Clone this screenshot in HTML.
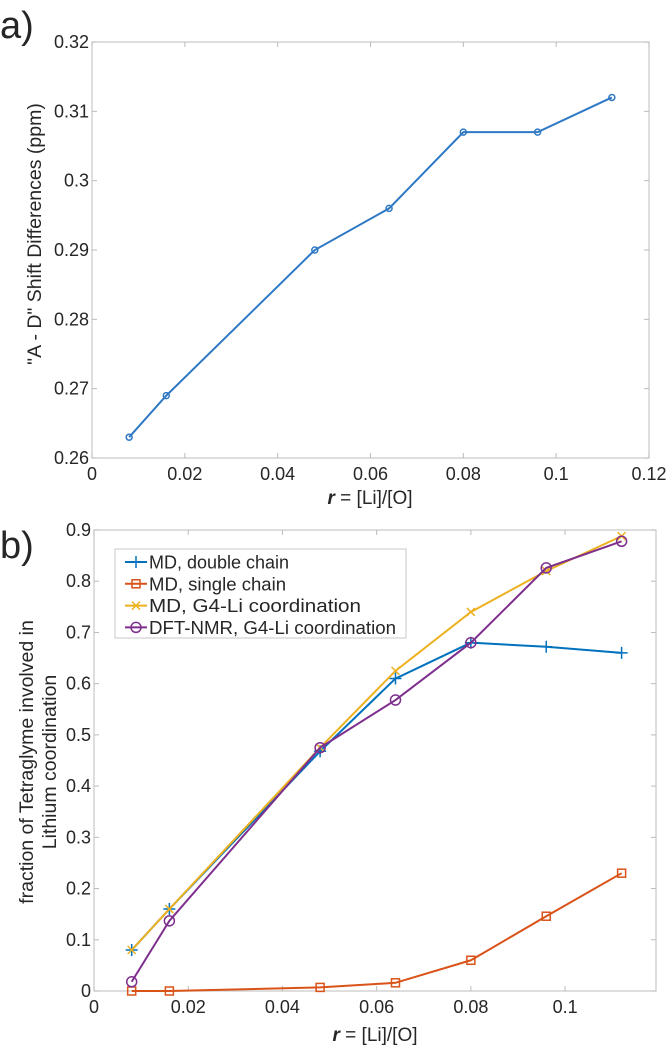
<!DOCTYPE html>
<html><head><meta charset="utf-8"><style>
body{margin:0;background:#fff;width:666px;height:1049px;overflow:hidden}
svg text{font-family:"Liberation Sans",Arial,sans-serif;fill:#262626}
</style></head><body>
<svg width="666" height="1049" viewBox="0 0 666 1049">
<g id="pa"></g>
<g id="pb"></g>
</svg>
<script>
const xCats=[0.008,0.016,0.048,0.064,0.080,0.096,0.112];
const shiftDiff=[0.263,0.269,0.290,0.296,0.307,0.307,0.312];
const aXTicks=[0,0.02,0.04,0.06,0.08,0.1,0.12];
const aXTickLabels=["0","0.02","0.04","0.06","0.08","0.1","0.12"];
const aYTicks=[0.26,0.27,0.28,0.29,0.30,0.31,0.32];
const aYTickLabels=["0.26","0.27","0.28","0.29","0.3","0.31","0.32"];
const doubleChain=[0.08,0.16,0.468,0.61,0.68,0.672,0.66];
const singleChain=[0,0,0.007,0.016,0.06,0.146,0.23];
const g4Coord=[0.08,0.16,0.475,0.625,0.74,0.82,0.888];
const dftNmr=[0.018,0.137,0.475,0.568,0.68,0.826,0.878];
const bXTicks=[0,0.02,0.04,0.06,0.08,0.1];
const bXTickLabels=["0","0.02","0.04","0.06","0.08","0.1"];
const bYTicks=[0,0.1,0.2,0.3,0.4,0.5,0.6,0.7,0.8,0.9];
const bYTickLabels=["0","0.1","0.2","0.3","0.4","0.5","0.6","0.7","0.8","0.9"];
const legendLabels=["MD, double chain","MD, single chain","MD, G4-Li coordination","DFT-NMR, G4-Li coordination"];

const NS="http://www.w3.org/2000/svg";
function mk(p,tag,at,txt){const e=document.createElementNS(NS,tag);for(const k in at)e.setAttribute(k,at[k]);if(txt!==undefined)e.textContent=txt;p.appendChild(e);return e;}

function axes(g,L,R,T,B,x0,x1,y0,y1,xt,xtl,yt,ytl){
  const sx=v=>L+(v-x0)/(x1-x0)*(R-L), sy=v=>B-(v-y0)/(y1-y0)*(B-T);
  const box=mk(g,'rect',{x:L,y:T,width:R-L,height:B-T,fill:'none',stroke:'#c8c8c8','stroke-width':1.2});
  
  
  xt.forEach((v,i)=>{const x=sx(v);
    mk(g,'line',{x1:x,x2:x,y1:B,y2:B-5,stroke:'#bbb'});mk(g,'line',{x1:x,x2:x,y1:T,y2:T+5,stroke:'#bbb'});
    const t=mk(g,'text',{x:x,y:B+22,'text-anchor':'middle','font-size':18},xtl[i]);
    
    });
  yt.forEach((v,i)=>{const y=sy(v);
    mk(g,'line',{x1:L,x2:L+5,y1:y,y2:y,stroke:'#bbb'});mk(g,'line',{x1:R,x2:R-5,y1:y,y2:y,stroke:'#bbb'});
    const t=mk(g,'text',{x:L-3,y:y+6,'text-anchor':'end','font-size':18},ytl[i]);
    
    });
  return {sx,sy};
}
function marker(g,type,x,y,c){
  if(type==='o')mk(g,'circle',{cx:x,cy:y,r:5,fill:'none',stroke:c,'stroke-width':1.5});
  else if(type==='s')mk(g,'rect',{x:x-4,y:y-4,width:8,height:8,fill:'none',stroke:c,'stroke-width':1.5});
  else if(type==='+'){mk(g,'path',{d:`M${x-6} ${y}H${x+6}M${x} ${y-6}V${y+6}`,stroke:c,'stroke-width':1.5});}
  else if(type==='x'){mk(g,'path',{d:`M${x-4} ${y-4}L${x+4} ${y+4}M${x-4} ${y+4}L${x+4} ${y-4}`,stroke:c,'stroke-width':1.5});}
  else if(type==='dot')mk(g,'circle',{cx:x,cy:y,r:3,fill:'none',stroke:c,'stroke-width':1.5});
}
function series(g,sx,sy,xs,ys,c,m,name){
  const s=mk(g,'g',{});
  
  
  mk(s,'polyline',{points:xs.map((x,i)=>sx(x)+','+sy(ys[i])).join(' '),fill:'none',stroke:c,'stroke-width':2});
  xs.forEach((x,i)=>marker(s,m,sx(x),sy(ys[i]),c));
}
// Panel A
const ga=document.getElementById('pa');
const A=axes(ga,92,649,42,458,0,0.12,0.26,0.32,aXTicks,aXTickLabels,aYTicks,aYTickLabels);
series(ga,A.sx,A.sy,xCats,shiftDiff,'#2f78c4','dot','series-shift-difference');
let t=mk(ga,'text',{x:0,y:38,'font-size':38},'a)');


t=mk(ga,'text',{x:370,y:504,'text-anchor':'middle','font-size':19});
t.innerHTML='<tspan font-style="italic" font-weight="bold">r</tspan> = [Li]/[O]';


t=mk(ga,'text',{x:0,y:0,'text-anchor':'middle','font-size':19.5,transform:'translate(41,234) rotate(-90)'},'"A - D" Shift Differences (ppm)');


// Panel B
const gb=document.getElementById('pb');
const B=axes(gb,94,656,530,991,0,0.1193,0,0.9,bXTicks,bXTickLabels,bYTicks,bYTickLabels);
const cols=['#0072BD','#D95319','#EDB120','#7E2F8E'],mks=['+','s','x','o'];
[doubleChain,singleChain,g4Coord,dftNmr].forEach((ys,i)=>series(gb,B.sx,B.sy,xCats,ys,cols[i],mks[i],'series-'+['double-chain','single-chain','g4-li','dft-nmr'][i]));
t=mk(gb,'text',{x:0,y:558,'font-size':38},'b)');


t=mk(gb,'text',{x:375,y:1041,'text-anchor':'middle','font-size':19});
t.innerHTML='<tspan font-style="italic" font-weight="bold">r</tspan> = [Li]/[O]';


t=mk(gb,'text',{x:0,y:0,'text-anchor':'middle','font-size':19.5,transform:'translate(33,762) rotate(-90)'},'fraction of Tetraglyme involved in');


t=mk(gb,'text',{x:0,y:0,'text-anchor':'middle','font-size':19.5,transform:'translate(56,762) rotate(-90)'},'Lithium coordination');


const lg=mk(gb,'g',{});


mk(lg,'rect',{x:115,y:549,width:291,height:89,fill:'#fff',stroke:'#c8c8c8'});
legendLabels.forEach((lab,i)=>{const y=562+i*21.8;
  const e=mk(lg,'g',{});
  
  
  mk(e,'line',{x1:125,x2:147,y1:y,y2:y,stroke:cols[i],'stroke-width':2});
  marker(e,mks[i],136,y,cols[i]);
  mk(e,'text',{x:149,y:y+6.5,'font-size':18,textLength:[140,137,212,247][i],lengthAdjust:'spacingAndGlyphs'},lab);});
</script>
</body></html>
